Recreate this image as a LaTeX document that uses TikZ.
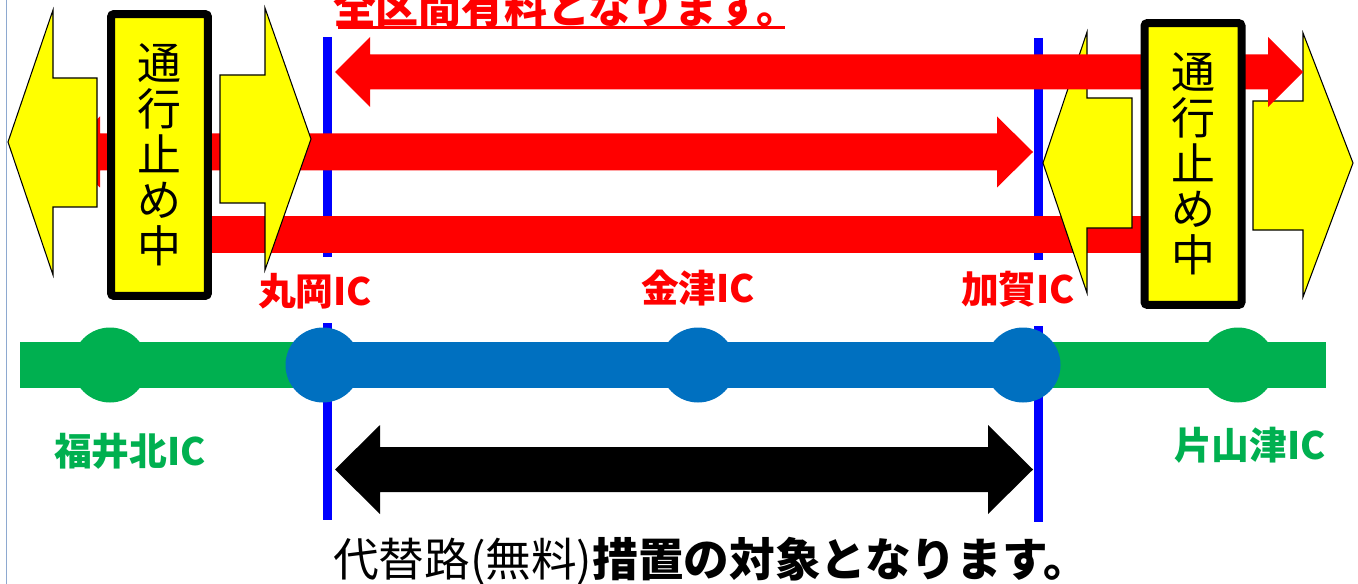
\documentclass[tikz,border=0pt]{standalone}
\usepackage{fontspec}
\newfontfamily\jpfont{Noto Sans CJK JP}
\usetikzlibrary{positioning}

\definecolor{roadgreen}{HTML}{00B050}
\definecolor{roadblue}{HTML}{0070C0}
\definecolor{cutblue}{HTML}{0000FF}
\definecolor{signyellow}{HTML}{FFFF00}
\definecolor{framegray}{HTML}{8EA9D0}

\begin{document}
\begin{tikzpicture}[x=0.02cm, y=-0.02cm,
  road/.style={line width=0.92cm},
  icdot/.style={circle, inner sep=0pt, minimum size=1.5cm},
  iclabel/.style={font=\jpfont\bfseries\fontsize{21.5}{24}\selectfont, inner sep=0pt},
  cutline/.style={draw=cutblue, line width=0.18cm},
  yellowarrow/.style={fill=signyellow, draw=black, line width=0.6pt},
  stopbox/.style={draw, line width=0.16cm, rounded corners=0.06cm, fill=signyellow,
    minimum width=1.94cm, minimum height=5.64cm, inner sep=0pt, align=center,
    font=\jpfont\fontsize{25}{26}\selectfont}]
  \clip (0,0) rectangle (1358,584);
  \draw[framegray, line width=0.03cm] (6.5,0) -- (6.5,584);

  % section limits
  \draw[cutline] (327.5,37) -- (327.5,257) (327.5,323) -- (327.5,520);
  \draw[cutline] (1038,38) -- (1038,260) (1038,326) -- (1038,522);

  % expressway
  \coordinate (roadW) at (20,365);
  \coordinate (roadE) at (1326,365);
  \foreach \name/\x in {fukuikita/110, maruoka/323, kanazu/698, kaga/1023, katayamazu/1238}
    \node[icdot] (\name) at (\x,365) {};
  \draw[road, roadgreen] (roadW) -- (roadE);
  \draw[road, roadblue] (maruoka.center) -- (kaga.center);
  \foreach \name/\col in {fukuikita/roadgreen, maruoka/roadblue, kanazu/roadblue,
      kaga/roadblue, katayamazu/roadgreen}
    \fill[\col] (\name) circle (37.5);

  \node[iclabel, text=red, above=0.36cm of maruoka, xshift=-0.16cm] (maruokaL) {丸岡IC};
  \node[iclabel, text=red, above=0.42cm of kanazu] (kanazuL) {金津IC};
  \node[iclabel, text=red, above=0.4cm of kaga, xshift=-0.1cm] (kagaL) {加賀IC};
  \node[iclabel, text=roadgreen, below=0.6cm of fukuikita, xshift=0.4cm] (fukuikitaL) {福井北IC};
  \node[iclabel, text=roadgreen, below=0.48cm of katayamazu, xshift=0.24cm] (katayamazuL) {片山津IC};

  % toll arrows
  \fill[red] (64,152) -- (100,116.5) -- (100,133.5) -- (997,133.5) -- (997,116.5)
    -- (1033,152) -- (997,187.5) -- (997,170.5) -- (100,170.5) -- (100,187.5) -- cycle;
  \fill[red] (160,216.5) rectangle (1190,252.5);

  % closed sections
  \draw[yellowarrow] (8,142) -- (53,10) -- (53,78) -- (97,78) -- (97,207)
    -- (53,207) -- (53,275) -- cycle;
  \draw[yellowarrow] (311,139) -- (265,8) -- (265,75) -- (220,75) -- (220,203)
    -- (265,203) -- (265,270) -- cycle;
  \draw[yellowarrow] (1043,163) -- (1087,32) -- (1087,98) -- (1132,98) -- (1132,228)
    -- (1087,228) -- (1087,293) -- cycle;
  \draw[yellowarrow] (1353,163) -- (1303,33) -- (1303,101) -- (1253,101) -- (1253,230)
    -- (1303,230) -- (1303,297) -- cycle;

  \fill[red] (335,72) -- (370,37) -- (370,54.5) -- (1268,54.5) -- (1268,37)
    -- (1303,72) -- (1268,107) -- (1268,89.5) -- (370,89.5) -- (370,107) -- cycle;

  \node[stopbox] (stopW) at (159.5,155) {通\\行\\止\\め\\中};
  \node[stopbox] (stopE) at (1193,164) {通\\行\\止\\め\\中};

  % free detour
  \fill (335,469.5) -- (380,425) -- (380,447) -- (988,447) -- (988,425)
    -- (1033,469.5) -- (988,514) -- (988,492) -- (380,492) -- (380,514) -- cycle;

  \node[anchor=base, text=red, inner sep=0pt,
    font=\jpfont\bfseries\fontsize{24.4}{28}\selectfont] (title) at (566,24) {全区間有料となります。};
  \draw[red, line width=0.06cm] (338,28) -- (785,28);
  \node[anchor=base, inner sep=0pt, font=\jpfont\fontsize{26}{29}\selectfont] (note)
    at (711,576) {代替路(無料)\textbf{措置の対象となります。}};
\end{tikzpicture}
\end{document}
